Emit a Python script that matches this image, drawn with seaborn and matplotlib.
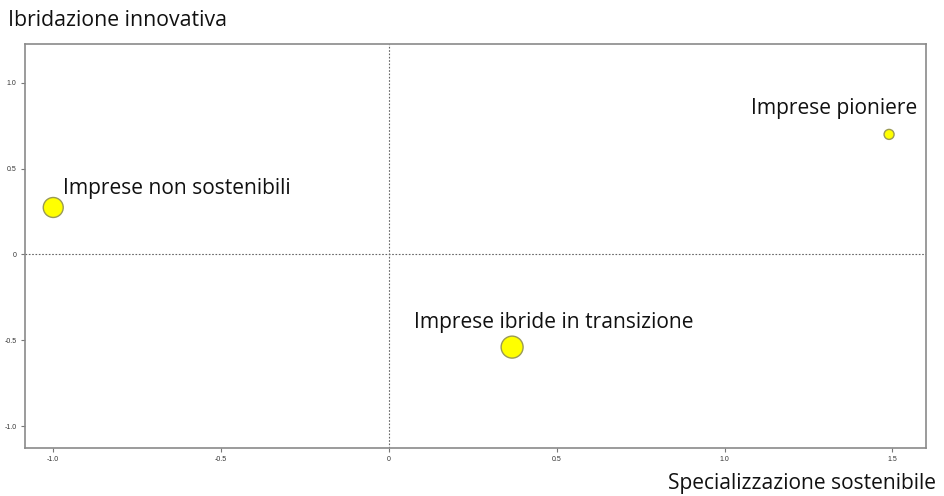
import pandas as pd

import matplotlib
matplotlib.use('AGG')
import matplotlib.pyplot as plt
import seaborn as sns

sns.set_theme(style="white")
plt.rcParams['font.family'] = ['Open Sans', 'DejaVu Sans']

# cluster data
gruppi = ["Imprese non sostenibili", "Imprese pioniere", "Imprese ibride in transizione"]
specializzazione = [-1.0, 1.49, 0.367]
ibridazione = [0.274, 0.70, -0.54]
peso = [100, 25, 121]

x_ticks = [-1.0, -0.5, 0, 0.5, 1.0, 1.5]
x_tick_labels = ["-1.0", "-0.5", "0", "0.5", "1.0", "1.5"]
y_ticks = [-1.0, -0.5, 0, 0.5, 1.0]
y_tick_labels = ["-1.0", "-0.5", "0", "0.5", "1.0"]

df = pd.DataFrame({'gruppo': gruppi, 'x': specializzazione,
                   'y': ibridazione, 'peso': peso})

fig = plt.figure(figsize=(9.45, 4.96), dpi=100)
ax = fig.add_axes([0.0265, 0.0968, 0.9534, 0.8145])

ax.axhline(0, color='#666666', lw=0.8, ls=(0, (1.5, 1.5)), zorder=1)
ax.axvline(0, color='#666666', lw=0.8, ls=(0, (1.5, 1.5)), zorder=1)

sns.scatterplot(data=df, x='x', y='y', size='peso', sizes=(0, 250),
                size_norm=(0, 121), color='#ffff00', edgecolor='#9a9a55',
                linewidth=1.0, legend=False, ax=ax, zorder=3)

# labels next to each bubble
offsets = {"Imprese non sostenibili": ((7, 14), 'left'),
           "Imprese pioniere": ((20, 18.5), 'right'),
           "Imprese ibride in transizione": ((30, 18), 'center')}
for _, r in df.iterrows():
    off, ha = offsets[r['gruppo']]
    ax.annotate(r['gruppo'], (r['x'], r['y']), xytext=off,
                textcoords='offset points', ha=ha, va='center',
                fontsize=15.1, color='#111111')

ax.set_xlim(-1.084, 1.60)
ax.set_ylim(-1.128, 1.227)
ax.set_xticks(x_ticks)
ax.set_xticklabels(x_tick_labels)
ax.set_yticks(y_ticks)
ax.set_yticklabels(y_tick_labels)
ax.tick_params(axis='both', which='both', length=3, width=0.8,
               color='#777777', labelsize=5, labelcolor='#333333', pad=3,
               bottom=True, left=True)
for lab in ax.get_xticklabels() + ax.get_yticklabels():
    lab.set_family(['Liberation Sans', 'DejaVu Sans'])

for s in ax.spines.values():
    s.set_color('#8a8a8a')
    s.set_linewidth(1.2)

ax.set_xlabel('')
ax.set_ylabel('')

fig.text(8 / 945, 1 - 20 / 496, 'Ibridazione innovativa', ha='left',
         va='center', fontsize=15.3, color='#111111')
fig.text(668 / 945, 1 - 483 / 496, 'Specializzazione sostenibile',
         ha='left', va='center', fontsize=15.1, color='#111111')

fig.savefig('out.png', dpi=100)
